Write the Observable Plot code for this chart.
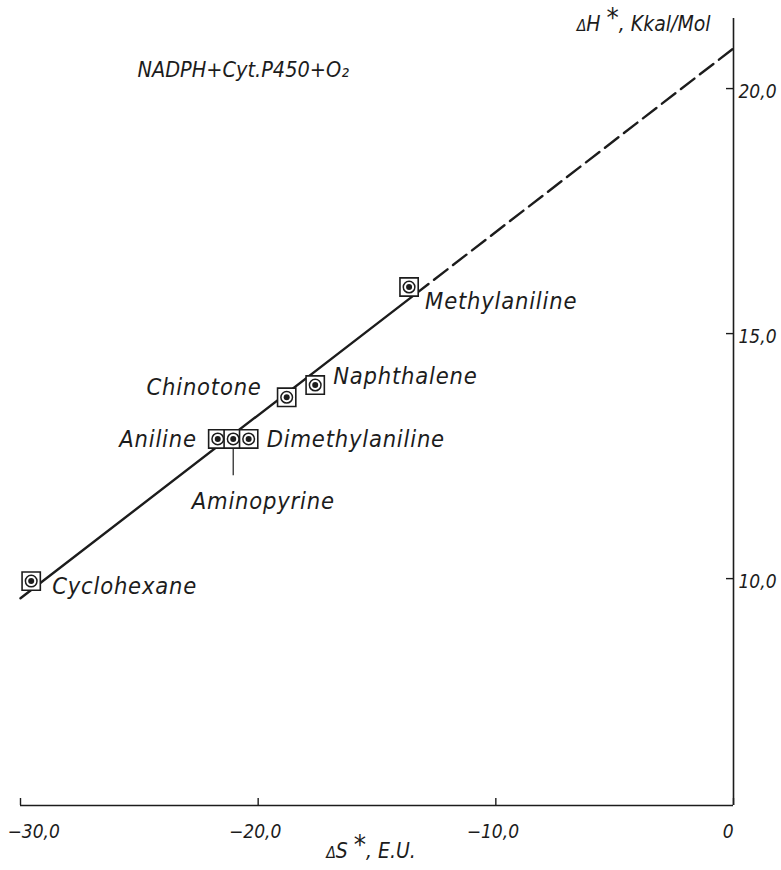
<!DOCTYPE html>
<html><head><meta charset="utf-8">
<script src="https://cdn.jsdelivr.net/npm/d3@7"></script>
<script src="https://cdn.jsdelivr.net/npm/@observablehq/plot@0.6"></script>
<style>
body{margin:0;background:#fff}
svg{display:block}
</style>
</head><body><div id="chart"></div>
<script>
// ---- data ----
const compounds = ["Cyclohexane","Aniline","Aminopyrine","Dimethylaniline","Chinotone","Naphthalene","Methylaniline"];
const deltaS = [-29.55, -21.7, -21.05, -20.4, -18.8, -17.6, -13.65];   // ΔS*, E.U.
const deltaH = [9.95, 12.85, 12.85, 12.85, 13.7, 13.95, 15.95];        // ΔH*, kcal/mol
const fitSolidS = [-30, -13.4];
const fitSolidH = [9.6, 15.8];
const fitDashS = [-13.4, 0];
const fitDashH = [15.8, 20.82];
const xTicks = [-30, -20, -10, 0];
const xTickLabels = ["−30,0", "−20,0", "−10,0", "0"];
const yTicks = [10, 15, 20];
const yTickLabels = ["10,0", "15,0", "20,0"];
const title = "NADPH+Cyt.P450+O₂";
const xLabel = ["ΔS", "*", ", E.U."];
const yLabel = ["ΔH", "*", ", Kkal/Mol"];

const pts = compounds.map((name, i) => ({name, s: deltaS[i], h: deltaH[i]}));
const solid = fitSolidS.map((s, i) => ({s, h: fitSolidH[i]}));
const dashed = fitDashS.map((s, i) => ({s, h: fitDashH[i]}));

const ink = "#1c1c1c";
const font = "'DejaVu Sans Condensed','Liberation Sans Narrow','DejaVu Sans',sans-serif";
const W = 781, H = 870;
const mL = 20, mR = 48, mT = 18, mB = 65;
const innerW = W - mL - mR, innerH = H - mT - mB;
const xDomain = [-30, 0], yDomain = [5.37, 21.43];

// label placement (pixel offsets from each point)
const place = {
  Cyclohexane:     {anchor: "start",  dx: 21,  dy: 5},
  Aniline:         {anchor: "end",    dx: -21, dy: 1},
  Aminopyrine:     {anchor: "middle", dx: 30,  dy: 63},
  Dimethylaniline: {anchor: "start",  dx: 18,  dy: 1},
  Chinotone:       {anchor: "end",    dx: -25, dy: -10},
  Naphthalene:     {anchor: "start",  dx: 18,  dy: -9},
  Methylaniline:   {anchor: "start",  dx: 16,  dy: 14}
};
const labelMarks = pts.map(p => Plot.text([p], {
  x: "s", y: "h", text: "name", textAnchor: place[p.name].anchor,
  dx: place[p.name].dx, dy: place[p.name].dy,
  fontSize: 23.5, fontStyle: "italic", fill: ink, className: "lbl"
}));

const chart = Plot.plot({
  width: W, height: H,
  marginLeft: mL, marginRight: mR, marginTop: mT, marginBottom: mB,
  x: {domain: xDomain, axis: null},
  y: {domain: yDomain, axis: null},
  style: {fontFamily: font, color: ink, background: "#fff", overflow: "visible"},
  marks: [
    // axes lines
    Plot.ruleY([yDomain[0]], {x1: xDomain[0], x2: xDomain[1], stroke: ink, strokeWidth: 1.6}),
    Plot.ruleX([xDomain[1]], {stroke: ink, strokeWidth: 1.6}),
    // ticks (inward)
    Plot.tickX(xTicks, {x: d => d, insetTop: innerH - 7, stroke: ink, strokeWidth: 1.4}),
    Plot.tickY(yTicks, {y: d => d, insetLeft: innerW - 7, stroke: ink, strokeWidth: 1.4}),
    // tick labels
    Plot.text(xTicks.slice(0, 1), {x: d => d, y: yDomain[0], text: (d) => xTickLabels[xTicks.indexOf(d)], textAnchor: "start", dx: -13, dy: 26, fontSize: 19, fontStyle: "italic", fill: ink}),
    Plot.text(xTicks.slice(1, 3), {x: d => d, y: yDomain[0], text: (d) => xTickLabels[xTicks.indexOf(d)], textAnchor: "middle", dx: -3, dy: 26, fontSize: 19, fontStyle: "italic", fill: ink}),
    Plot.text(xTicks.slice(3), {x: d => d, y: yDomain[0], text: (d) => xTickLabels[xTicks.indexOf(d)], textAnchor: "end", dx: 0, dy: 26, fontSize: 19, fontStyle: "italic", fill: ink}),
    Plot.text(yTicks, {x: xDomain[1], y: d => d, text: (d) => yTickLabels[yTicks.indexOf(d)], textAnchor: "start", dx: 5, dy: 3, fontSize: 19, fontStyle: "italic", fill: ink}),
    // axis titles and title
    Plot.text([xLabel.join("")], {frameAnchor: "bottom", text: d => d, dx: -6, dy: 52, fontSize: 21, fontStyle: "italic", fill: ink, className: "xlab"}),
    Plot.text([yLabel.join("")], {frameAnchor: "top-right", text: d => d, textAnchor: "end", dx: -23, dy: -2, fontSize: 21, fontStyle: "italic", fill: ink, className: "ylab"}),
    Plot.text([title], {frameAnchor: "top-left", text: d => d, textAnchor: "start", dx: 117, dy: 43, fontSize: 21.5, fontStyle: "italic", fill: ink}),
    // fitted line
    Plot.line(solid, {x: "s", y: "h", stroke: ink, strokeWidth: 2.4}),
    Plot.line(dashed, {x: "s", y: "h", stroke: ink, strokeWidth: 2.4, strokeDasharray: "17,7"}),
    // Aminopyrine leader
    Plot.ruleX(pts.filter(p => p.name === "Aminopyrine"), {x: "s", y1: "h", y2: d => d.h - 0.75, stroke: ink, strokeWidth: 1.2}),
    // markers
    Plot.dot(pts, {x: "s", y: "h", symbol: "square", r: 10.3, fill: "#fff", stroke: ink, strokeWidth: 1.6}),
    Plot.dot(pts, {x: "s", y: "h", r: 5.8, fill: "#fff", stroke: ink, strokeWidth: 1.5}),
    Plot.dot(pts, {x: "s", y: "h", r: 3, fill: ink}),
    ...labelMarks
  ]
});

// letter spacing for compound labels (drafting style)
d3.select(chart).selectAll("g.lbl text").attr("letter-spacing", 0.8);
// axis titles with raised large asterisk and small delta
function richLabel(cls, parts) {
  const t = d3.select(chart).select(`g.${cls} text`);
  if (t.empty()) return;
  t.text(null);
  t.append("tspan").attr("font-size", "75%").text(parts[0].slice(0, 1));
  t.append("tspan").text(parts[0].slice(1) + " ");
  t.append("tspan").attr("font-size", "130%").attr("dy", -4).text(parts[1]);
  t.append("tspan").attr("dy", 4).text(parts[2]);
}
richLabel("xlab", xLabel);
richLabel("ylab", yLabel);
document.getElementById("chart").append(chart);
</script>
</body></html>
